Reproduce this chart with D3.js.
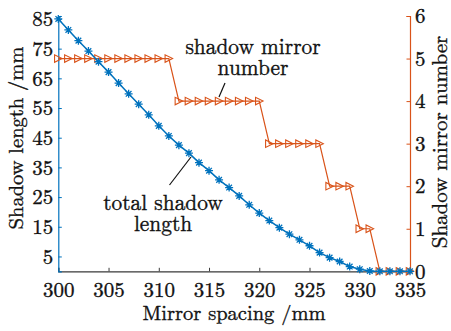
<!DOCTYPE html>
<html>
<head>
<meta charset="utf-8">
<script src="https://cdn.jsdelivr.net/npm/d3@7"></script>
</head>
<body style="margin:0;background:#fff">
<svg id="chart" width="451" height="331" style="display:block"></svg>
<script>
// ---- data ----
const spacing = d3.range(300, 336); // 300..335 mm
const totalShadow = [85.0, 81.3, 77.7, 74.2, 70.6, 67.1, 63.4, 59.8, 56.3, 52.7,
                     49.0, 45.6, 42.5, 39.8, 36.6, 33.9, 30.8, 28.2, 25.4, 22.4,
                     19.6, 17.1, 14.7, 12.5, 10.6, 8.6, 6.3, 4.6, 3.3, 1.6,
                     0.7, 0.1, 0, 0, 0, 0];
const mirrorNumber = [5, 5, 5, 5, 5, 5, 5, 5, 5, 5, 5, 5,
                      4, 4, 4, 4, 4, 4, 4, 4, 4,
                      3, 3, 3, 3, 3, 3,
                      2, 2, 2,
                      1, 1,
                      0, 0, 0, 0];
const xTicks = [300, 305, 310, 315, 320, 325, 330, 335];
const yLeftTicks = [5, 15, 25, 35, 45, 55, 65, 75, 85];
const yRightTicks = [0, 1, 2, 3, 4, 5, 6];

// ---- layout ----
const BLUE = "#0072BD", ORANGE = "#D95319", AXIS = "#3a3a3a";
const FONT = '"Latin Modern Roman", "Liberation Serif", serif';
const pLeft = 58.3, pRight = 410, pTop = 16, pBottom = 271.3;

const svg = d3.select("#chart");
const x = d3.scaleLinear().domain([300, 335]).range([pLeft, pRight]);
const yL = d3.scaleLinear().domain([0, 86]).range([pBottom, pTop]);
const yR = d3.scaleLinear().domain([0, 6]).range([pBottom, pTop]);

function styleText(sel, size) {
  sel.style("font-family", FONT).style("font-size", size + "px")
     .style("fill", "#111").style("stroke", "#111").style("stroke-width", "0.35px");
}

// custom marker symbols
const asterisk8 = {
  draw(ctx, size) {
    const r = Math.sqrt(size) / 2;
    const d = r * Math.SQRT1_2;
    ctx.moveTo(-r, 0); ctx.lineTo(r, 0);
    ctx.moveTo(0, -r); ctx.lineTo(0, r);
    ctx.moveTo(-d, -d); ctx.lineTo(d, d);
    ctx.moveTo(-d, d); ctx.lineTo(d, -d);
  }
};
const triRight = {
  draw(ctx, size) {
    const r = Math.sqrt(size) / 2;
    ctx.moveTo(r, 0);
    ctx.lineTo(-r, -r);
    ctx.lineTo(-r, r);
    ctx.closePath();
  }
};

// ---- axes ----
const fmt = d3.format("d");
const xAxis = d3.axisBottom(x).tickValues(xTicks).tickSize(-3.5).tickPadding(11).tickFormat(fmt);
const gx = svg.append("g").attr("transform", `translate(0,${pBottom})`).call(xAxis);
gx.select(".domain").attr("stroke", AXIS).attr("stroke-width", 1.2);
gx.selectAll(".tick line").attr("stroke", AXIS);
styleText(gx.selectAll("text"), 21);

const yAxisL = d3.axisLeft(yL).tickValues(yLeftTicks).tickSize(-3.5).tickPadding(5).tickFormat(fmt);
const gyl = svg.append("g").attr("transform", `translate(${pLeft},0)`).call(yAxisL);
gyl.select(".domain").attr("stroke", BLUE).attr("stroke-width", 1.2);
gyl.selectAll(".tick line").attr("stroke", BLUE);
styleText(gyl.selectAll("text"), 21);

const yAxisR = d3.axisRight(yR).tickValues(yRightTicks).tickSize(-3.5).tickPadding(5).tickFormat(fmt);
const gyr = svg.append("g").attr("transform", `translate(${pRight},0)`).call(yAxisR);
gyr.select(".domain").attr("stroke", ORANGE).attr("stroke-width", 1.2);
gyr.selectAll(".tick line").attr("stroke", ORANGE);
styleText(gyr.selectAll("text"), 21);

// ---- series ----
const dataR = spacing.map((s, i) => ({ x: s, y: mirrorNumber[i] }));
const dataL = spacing.map((s, i) => ({ x: s, y: totalShadow[i] }));

svg.append("path").datum(dataR)
  .attr("fill", "none").attr("stroke", ORANGE).attr("stroke-width", 1.2)
  .attr("d", d3.line().x(d => x(d.x)).y(d => yR(d.y)));
svg.append("g").selectAll("path").data(dataR).join("path")
  .attr("transform", d => `translate(${x(d.x)},${yR(d.y)})`)
  .attr("d", d3.symbol().type(triRight).size(56))
  .attr("fill", "none").attr("stroke", ORANGE).attr("stroke-width", 1.1);

svg.append("path").datum(dataL)
  .attr("fill", "none").attr("stroke", BLUE).attr("stroke-width", 1.5)
  .attr("d", d3.line().x(d => x(d.x)).y(d => yL(d.y)));
svg.append("g").selectAll("path").data(dataL).join("path")
  .attr("transform", d => `translate(${x(d.x)},${yL(d.y)})`)
  .attr("d", d3.symbol().type(asterisk8).size(64))
  .attr("fill", "none").attr("stroke", BLUE).attr("stroke-width", 1.3);

// ---- annotations ----
const txt = (t, s, size) => {
  const e = svg.append("text").attr("transform", t).attr("text-anchor", "middle").text(s);
  styleText(e, size);
  return e;
};

txt("translate(253,54)", "shadow mirror", 21.4);
txt("translate(253,75)", "number", 21.4);
svg.append("line").attr("x1", 225).attr("y1", 83).attr("x2", 219).attr("y2", 97)
  .attr("stroke", "#111").attr("stroke-width", 1.2);

txt("translate(163,210)", "total shadow", 21.4);
txt("translate(163,231)", "length", 21.4);
svg.append("line").attr("x1", 191).attr("y1", 157).attr("x2", 169.5).attr("y2", 185)
  .attr("stroke", "#111").attr("stroke-width", 1.2);

// ---- axis titles ----
txt("translate(234,320)", "Mirror spacing /mm", 20.5);
txt("translate(23,138) rotate(-90)", "Shadow length /mm", 20.5);
txt("translate(446.5,142) rotate(-90)", "Shadow mirror number", 21);
</script>
</body>
</html>
